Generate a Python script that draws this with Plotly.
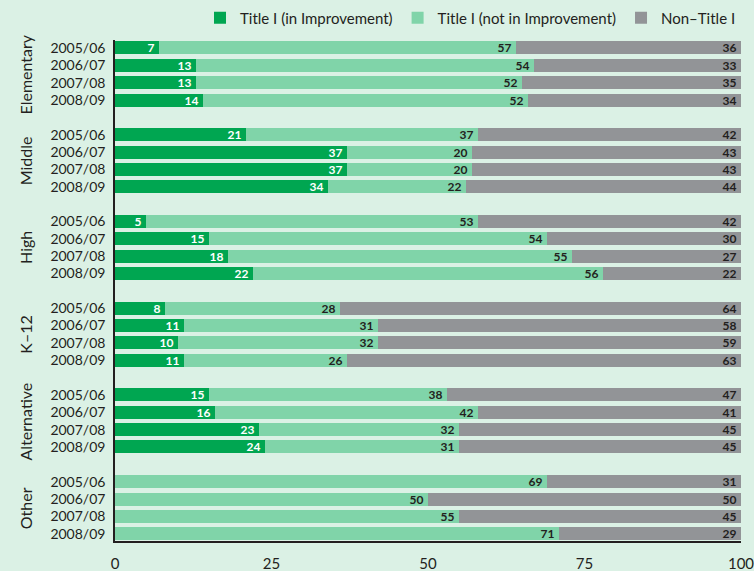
import plotly.graph_objects as go

groups = ["Elementary", "Middle", "High", "K–12", "Alternative", "Other"]
years = ["2005/06", "2006/07", "2007/08", "2008/09"]

title1_improve = {
    "Elementary": [7, 13, 13, 14],
    "Middle": [21, 37, 37, 34],
    "High": [5, 15, 18, 22],
    "K–12": [8, 11, 10, 11],
    "Alternative": [15, 16, 23, 24],
    "Other": [0, 0, 0, 0],
}
title1_not = {
    "Elementary": [57, 54, 52, 52],
    "Middle": [37, 20, 20, 22],
    "High": [53, 54, 55, 56],
    "K–12": [28, 31, 32, 26],
    "Alternative": [38, 42, 32, 31],
    "Other": [69, 50, 55, 71],
}
non_title1 = {
    "Elementary": [36, 33, 35, 34],
    "Middle": [42, 43, 43, 44],
    "High": [42, 30, 27, 22],
    "K–12": [64, 58, 59, 63],
    "Alternative": [47, 41, 45, 45],
    "Other": [31, 50, 45, 29],
}

SLOTS = 5
ypos, ylabels = [], []
for gi, g in enumerate(groups):
    for yi, y in enumerate(years):
        ypos.append(gi * SLOTS + yi)
        ylabels.append(y)

v1 = [v for g in groups for v in title1_improve[g]]
v2 = [v for g in groups for v in title1_not[g]]
v3_label = [v for g in groups for v in non_title1[g]]
# the grey (remainder) bar always reaches 100% in the picture (labels are rounded)
v3 = [100 - a - b for a, b in zip(v1, v2)]

series = [
    ("Title I (in Improvement)", v1, v1, "#00a651", "white"),
    ("Title I (not in Improvement)", v2, v2, "#80d4a9", "#231f20"),
    ("Non–Title I", v3, v3_label, "#929497", "#231f20"),
]

FONT = "Lato"
fig = go.Figure()
for name, vals, labels, color, tcolor in series:
    texts = [(str(t) + "\u2009") if v else "" for v, t in zip(vals, labels)]
    fig.add_trace(go.Bar(
        name=name, orientation="h", y=ypos, x=vals,
        marker=dict(color=color, line=dict(width=0)),
        width=0.75,
        text=texts, textposition="inside", insidetextanchor="end",
        textangle=0, cliponaxis=False,
        textfont=dict(color=tcolor, size=12, family=FONT, weight="bold"),
        hoverinfo="skip",
    ))

for gi, g in enumerate(groups):
    fig.add_annotation(
        x=-0.143, xref="paper", xanchor="center",
        y=gi * SLOTS + 1.5, yref="y", yanchor="middle",
        text=g, textangle=-90, showarrow=False,
        font=dict(size=16, color="#231f20", family=FONT),
    )

bg = "#dbf1e5"
fig.update_layout(
    barmode="stack",
    width=754, height=571,
    margin=dict(l=115, r=13, t=40, b=30, autoexpand=False),
    paper_bgcolor=bg, plot_bgcolor=bg,
    bargap=0,
    uniformtext=dict(minsize=8, mode="show"),
    font=dict(family=FONT, color="#231f20"),
    legend=dict(
        orientation="h", x=1.0, xanchor="right", xref="paper",
        y=1 - 18 / 571, yanchor="middle", yref="container",
        font=dict(size=15, color="#231f20", family=FONT), bgcolor="rgba(0,0,0,0)",
        traceorder="normal", itemwidth=30, entrywidthmode="pixels",
    ),
    xaxis=dict(
        range=[0, 100], tickvals=[0, 25, 50, 75, 100],
        showgrid=False, zeroline=False, showline=True, automargin=False,
        linecolor="#231f20", linewidth=1.5, ticks="", ticklabeloverflow="allow",
        tickfont=dict(size=15, color="#231f20", family=FONT), ticklabelstandoff=8,
    ),
    yaxis=dict(
        range=[28.42, -0.46], tickvals=ypos, ticktext=ylabels,
        showgrid=False, zeroline=False, showline=True, automargin=False,
        linecolor="#231f20", linewidth=1.5, ticks="",
        tickfont=dict(size=14, color="#231f20", family=FONT), ticklabelstandoff=5,
    ),
)

fig.write_html("out.html")
